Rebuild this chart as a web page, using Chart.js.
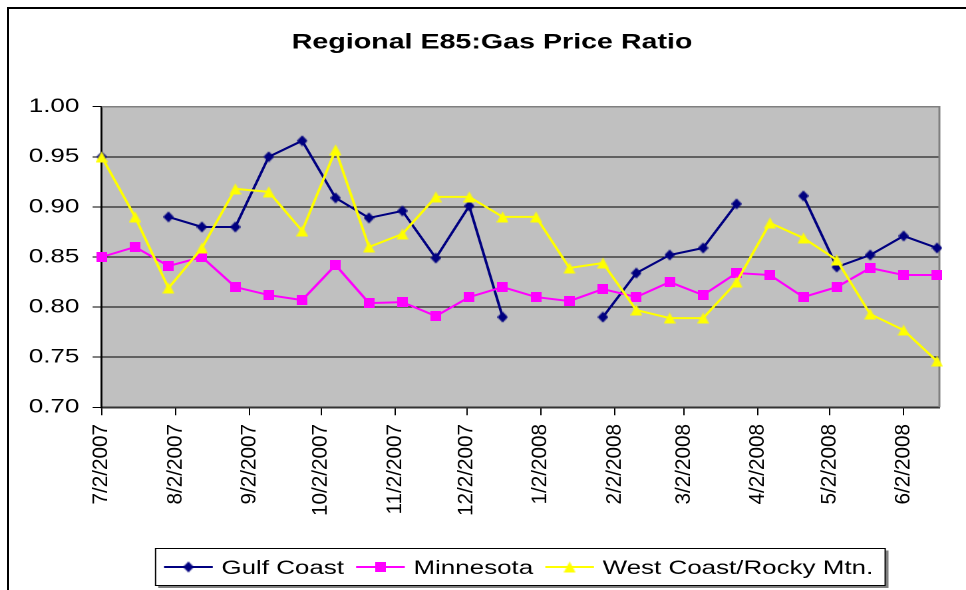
<!DOCTYPE html>
<html>
<head>
<meta charset="utf-8">
<script src="https://cdn.jsdelivr.net/npm/chart.js"></script>
<style>
    html, body { margin: 0; padding: 0; background: #fff; overflow: hidden; }
    #moldura { position: absolute; left: 7px; top: 7px; width: 1000px; height: 700px; border: 2px solid #000; }
    /* o gráfico original está esticado na horizontal */
    #esticado { position: absolute; left: 0; top: 0; width: 726px; height: 590px; transform: scaleX(1.3306); transform-origin: 0 0; }
</style>
</head>
<body>
<div id="moldura"></div>
<div id="esticado"><canvas id="graficoRazao"></canvas></div>
<script>
const ESTICA = 966 / 726;

// Datas das medições (a cada 2 semanas)
const datas = [
    '7/2/2007', '7/16/2007', '7/30/2007', '8/13/2007', '8/27/2007', '9/10/2007', '9/24/2007',
    '10/8/2007', '10/22/2007', '11/5/2007', '11/19/2007', '12/3/2007', '12/17/2007', '12/31/2007',
    '1/14/2008', '1/28/2008', '2/11/2008', '2/25/2008', '3/10/2008', '3/24/2008', '4/7/2008',
    '4/21/2008', '5/5/2008', '5/19/2008', '6/2/2008', '6/16/2008'
];

const gulfCoast = [0.950, null, 0.890, 0.880, 0.880, 0.950, 0.966, 0.909, 0.889, 0.896, 0.849, 0.901, 0.790,
    null, null, 0.790, 0.834, 0.852, 0.859, 0.903, null, 0.911, 0.840, 0.852, 0.871, 0.859];

const minnesota = [0.850, 0.860, 0.841, 0.850, 0.820, 0.812, 0.807, 0.842, 0.804, 0.805, 0.791, 0.810, 0.820,
    0.810, 0.806, 0.818, 0.810, 0.825, 0.812, 0.834, 0.832, 0.810, 0.820, 0.839, 0.832, 0.832];

const westCoast = [0.950, 0.890, 0.819, 0.859, 0.918, 0.915, 0.876, 0.957, 0.860, 0.873, 0.910, 0.910, 0.890,
    0.890, 0.839, 0.844, 0.797, 0.789, 0.789, 0.825, 0.884, 0.869, 0.847, 0.793, 0.777, 0.746];

const rotulosX = ['7/2/2007', '8/2/2007', '9/2/2007', '10/2/2007', '11/2/2007', '12/2/2007',
    '1/2/2008', '2/2/2008', '3/2/2008', '4/2/2008', '5/2/2008', '6/2/2008'];

const nomesSeries = ['Gulf Coast', 'Minnesota', 'West Coast/Rocky Mtn.'];
const coresSeries = ['#000080', '#ff00ff', '#ffff00'];

const FONTE = '"Liberation Sans", Arial, sans-serif';

/**
 * Converte 'm/d/aaaa' em dias contados a partir de 7/2/2007.
 */
function diaDoEixo(texto) {
    const [m, d, a] = texto.split('/').map(Number);
    return Math.round((Date.UTC(a, m - 1, d) - Date.UTC(2007, 6, 2)) / 86400000);
}

function montarPontos(valores) {
    return datas.map((d, i) => ({ x: diaDoEixo(d), y: valores[i] }));
}

/**
 * Marcadores desenhados já compensando o esticamento horizontal.
 */
function criarMarcador(tipo, cor) {
    const c = document.createElement('canvas');
    const tam = { losango: [8, 11], quadrado: [8, 10], triangulo: [9, 11] }[tipo];
    const [w, h] = tam;
    c.width = w;
    c.height = h;
    const g = c.getContext('2d');
    g.fillStyle = cor;
    g.beginPath();
    if (tipo === 'losango') {
        g.moveTo(w / 2, 0); g.lineTo(w, h / 2); g.lineTo(w / 2, h); g.lineTo(0, h / 2);
    } else if (tipo === 'quadrado') {
        g.rect(0, 0, w, h);
    } else {
        g.moveTo(w / 2, 0); g.lineTo(w, h); g.lineTo(0, h);
    }
    g.closePath();
    g.fill();
    return c;
}

const marcadores = [
    criarMarcador('losango', coresSeries[0]),
    criarMarcador('quadrado', coresSeries[1]),
    criarMarcador('triangulo', coresSeries[2])
];

/* ------------------------------------------------------------------ */
/*                              PLUGINS                               */
/* ------------------------------------------------------------------ */

const fundoPlotagem = {
    id: 'fundoPlotagem',
    beforeDraw(chart) {
        const { ctx, chartArea: a } = chart;
        ctx.save();
        ctx.fillStyle = '#c0c0c0';
        ctx.fillRect(a.left, a.top, a.right - a.left, a.bottom - a.top);
        ctx.restore();
    },
    beforeDatasetsDraw(chart) {
        const { ctx, chartArea: a } = chart;
        ctx.save();
        ctx.strokeStyle = '#808080';
        ctx.lineWidth = 1.5;
        ctx.beginPath();
        ctx.moveTo(a.left, a.top);
        ctx.lineTo(a.right, a.top);
        ctx.lineTo(a.right, a.bottom);
        ctx.stroke();
        ctx.restore();
    }
};

const textosGrafico = {
    id: 'textosGrafico',
    afterDraw(chart) {
        const ctx = chart.ctx;
        ctx.save();
        ctx.fillStyle = '#000';

        // título
        ctx.font = 'bold 21.5px ' + FONTE;
        ctx.textAlign = 'center';
        ctx.textBaseline = 'alphabetic';
        ctx.fillText('Regional E85:Gas Price Ratio', 369.8, 48.3);

        // rótulos do eixo X (girados, sem esticar)
        const eixoX = chart.scales.x;
        ctx.font = '20.7px ' + FONTE;
        ctx.textAlign = 'right';
        ctx.textBaseline = 'middle';
        eixoX.ticks.forEach((t, i) => {
            const x = eixoX.getPixelForValue(t.value);
            ctx.save();
            ctx.translate(x, 424);
            ctx.rotate(-Math.PI / 2);
            ctx.scale(1, 1 / ESTICA);
            ctx.fillText(rotulosX[i], 0, 0);
            ctx.restore();
        });

        desenharLegenda(ctx);
        ctx.restore();
    }
};

function desenharLegenda(ctx) {
    ctx.font = '19.5px ' + FONTE;
    ctx.textAlign = 'left';
    ctx.textBaseline = 'alphabetic';
    const amostra = 36.6, folgaTexto = 6.5, folgaItem = 9.1;
    const yMeio = 567, yBase = 574;
    const inicio = 123.3;

    let x = inicio;
    nomesSeries.forEach((nome, i) => {
        ctx.strokeStyle = coresSeries[i];
        ctx.lineWidth = 2;
        ctx.beginPath();
        ctx.moveTo(x, yMeio);
        ctx.lineTo(x + amostra, yMeio);
        ctx.stroke();
        const m = marcadores[i];
        ctx.drawImage(m, x + amostra / 2 - m.width / 2, yMeio - m.height / 2);
        x += amostra + folgaTexto;
        ctx.fillStyle = '#000';
        ctx.fillText(nome, x, yBase);
        x += ctx.measureText(nome).width + folgaItem;
    });
    const fim = x - folgaItem;

    const esq = inicio - 6.4, dir = fim + 9, topo = 548.5, base = 585.5;
    ctx.strokeStyle = '#808080';
    ctx.lineWidth = 2;
    ctx.beginPath();
    ctx.moveTo(esq + 2, base + 1.5);
    ctx.lineTo(dir + 1.5, base + 1.5);
    ctx.lineTo(dir + 1.5, topo + 2);
    ctx.stroke();
    ctx.strokeStyle = '#000';
    ctx.lineWidth = 1;
    ctx.strokeRect(esq, topo, dir - esq, base - topo);
}

/* ------------------------------------------------------------------ */
/*                              GRÁFICO                               */
/* ------------------------------------------------------------------ */

const series = [gulfCoast, minnesota, westCoast];
const ordens = [2, 1, 0];

new Chart(document.getElementById('graficoRazao'), {
    type: 'line',
    data: {
        datasets: series.map((valores, i) => ({
            label: nomesSeries[i],
            data: montarPontos(valores),
            borderColor: coresSeries[i],
            backgroundColor: coresSeries[i],
            borderWidth: 2,
            pointStyle: marcadores[i],
            pointRadius: 5,
            pointHoverRadius: 5,
            tension: 0,
            spanGaps: false,
            clip: false,
            order: ordens[i]
        }))
    },
    options: {
        responsive: true,
        maintainAspectRatio: false,
        animation: false,
        devicePixelRatio: 2,
        events: [],
        layout: { padding: { top: 106.7, right: 20, left: 0, bottom: 0 } },
        plugins: {
            legend: { display: false },
            title: { display: false },
            tooltip: { enabled: false }
        },
        scales: {
            x: {
                type: 'linear',
                min: 0,
                max: 351,
                afterBuildTicks: escala => {
                    escala.ticks = rotulosX.map(r => ({ value: diaDoEixo(r) }));
                },
                afterFit: escala => { escala.height = 182.7; },
                ticks: { display: false },
                grid: { drawOnChartArea: false, drawTicks: true, tickLength: 8, color: '#000', tickColor: '#000' },
                border: { color: '#333', width: 2 }
            },
            y: {
                min: 0.7,
                max: 1.0,
                afterFit: escala => { escala.width = 76.4; },
                ticks: {
                    stepSize: 0.05,
                    padding: 10,
                    color: '#000',
                    font: { family: FONTE, size: 19.5 },
                    callback: v => v.toFixed(2)
                },
                grid: {
                    color: c => (c.tick && Math.abs(c.tick.value - 1) < 1e-6) ? '#808080' : '#000',
                    tickColor: '#000',
                    tickLength: 6.8,
                    lineWidth: 1
                },
                border: { color: '#000', width: 1.5 }
            }
        }
    },
    plugins: [fundoPlotagem, textosGrafico]
});
</script>
</body>
</html>
